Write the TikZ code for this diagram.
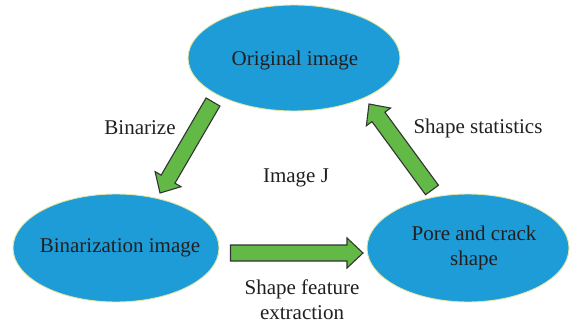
\documentclass[tikz,border=0pt]{standalone}
\usepackage{fontspec}
\setmainfont{Liberation Serif}
\usetikzlibrary{calc,shapes.geometric}

\definecolor{bubble}{HTML}{1E9CD7}
\definecolor{bubbleedge}{HTML}{E3E8A6}
\definecolor{arrowfill}{HTML}{62B946}
\definecolor{arrowedge}{HTML}{333333}
\definecolor{labeltext}{HTML}{231F20}

\tikzset{
  bubblenode/.style={ellipse, fill=bubble, draw=bubbleedge, line width=0.9pt, inner sep=0pt},
  labelnode/.style={text=labeltext, font=\fontsize{21}{25}\selectfont, align=center, inner sep=0pt},
  blockarr/.style={fill=arrowfill, draw=arrowedge, line width=1.1pt, line join=miter},
}

% Block arrow from coordinate #1 to coordinate #2
\newcommand\blockarrow[2]{%
  \coordinate (#1-#2-hb) at ($(#2)!16pt!(#1)$);
  \draw[blockarr]
    ($(#1)!8pt!90:(#2)$) -- ($(#1-#2-hb)!8pt!90:(#2)$) -- ($(#1-#2-hb)!15pt!90:(#2)$)
    -- (#2) -- ($(#1-#2-hb)!15pt!-90:(#2)$) -- ($(#1-#2-hb)!8pt!-90:(#2)$)
    -- ($(#1)!8pt!-90:(#2)$) -- cycle;}

\begin{document}
\begin{tikzpicture}[x=1pt,y=1pt]
  \useasboundingbox (0,0) rectangle (571,330);

  % the three images
  \node[bubblenode, minimum width=212pt, minimum height=106pt] (orig) at (294,272) {};
  \node[bubblenode, minimum width=206pt, minimum height=108pt] (bin) at (116,82) {};
  \node[bubblenode, minimum width=202pt, minimum height=108pt] (pore) at (468,82) {};
  \node[labelnode] (origtext) at ($(orig.center)+(1,-2)$) {Original image};
  \node[labelnode] (bintext) at ($(bin.center)+(4,0)$) {Binarization image};
  \node[labelnode] (poretext) at ($(pore.center)+(6,0)$) {Pore and crack\\shape};

  % arrow end points
  \coordinate (a1s) at (213,228);
  \coordinate (a1e) at (160,137);
  \coordinate (a2s) at (230.5,77);
  \coordinate (a2e) at (363,77);
  \coordinate (a3s) at (432,140);
  \coordinate (a3e) at (369,226);

  \blockarrow{a1s}{a1e}
  \blockarrow{a2s}{a2e}
  \blockarrow{a3s}{a3e}

  % step labels
  \node[labelnode] (lbin) at (140,202) {Binarize};
  \node[labelnode] (ltool) at (296,152) {Image J};
  \node[labelnode] (lstat) at (478,202) {Shape statistics};
  \node[labelnode] (lfeat) at (302,30) {Shape feature\\extraction};
\end{tikzpicture}
\end{document}
